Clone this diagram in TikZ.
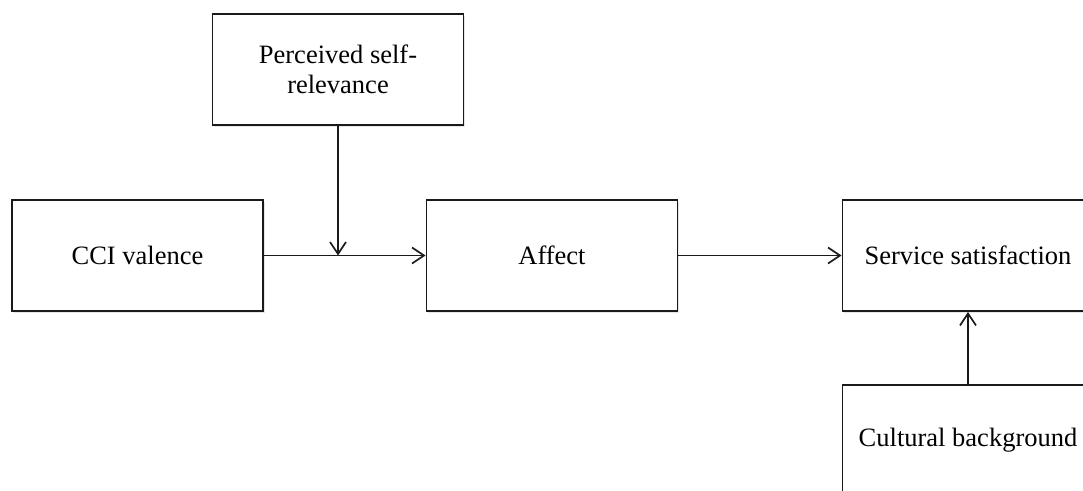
\documentclass[tikz,border=0pt]{standalone}
\usepackage{fontspec}
\setmainfont{Liberation Serif}
\usetikzlibrary{arrows.meta,shadows}
\definecolor{ink}{HTML}{1A1A1A}
\begin{document}
\begin{tikzpicture}[x=1pt,y=-1pt,
  box/.style={draw=ink, line width=1.9pt, fill=white, minimum width=251pt, minimum height=111pt,
    inner sep=0pt, align=center, font=\fontsize{26.5}{30.5}\selectfont,
    drop shadow={opacity=0.2, shadow xshift=1.5pt, shadow yshift=-2pt}},
  conn/.style={draw=ink, line width=1.7pt, -{Straight Barb[length=12pt,width=16pt,line width=1.7pt]}}]
\useasboundingbox (0,0) rectangle (1083,490);
\node[box] (P) at (338,69.5) {Perceived self-\\relevance};
\node[box] (C) at (137.5,255.5) {CCI valence};
\node[box] (A) at (552,255.5) {Affect};
\node[box] (S) at (968,255.5) {Service satisfaction};
\node[box] (Cu) at (968,440.5) {Cultural background};
\coordinate (m) at (P.south |- C.east);
\draw[conn] (C.east) -- (A.west);
\draw[conn] (P.south) -- (m);
\draw[conn] (A.east) -- (S.west);
\draw[conn] (Cu.north) -- (S.south);
\end{tikzpicture}
\end{document}
